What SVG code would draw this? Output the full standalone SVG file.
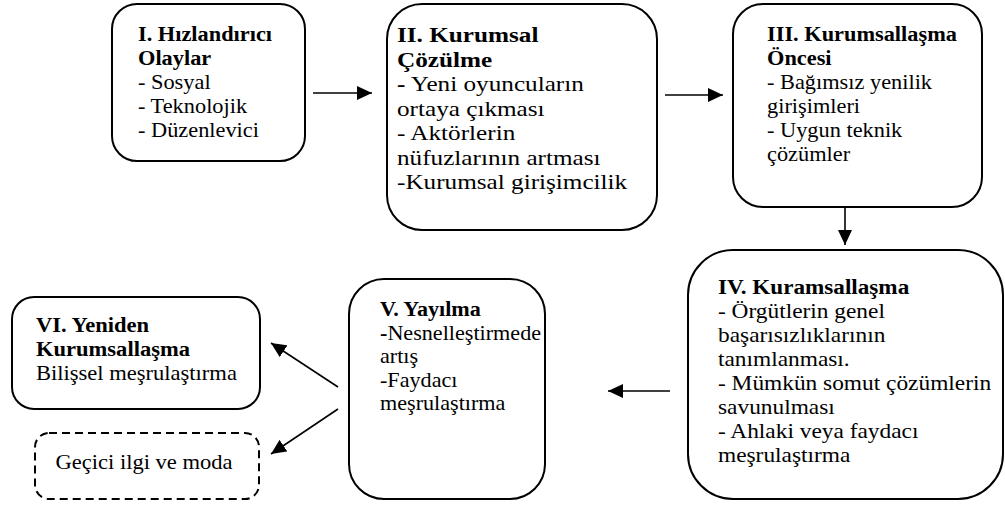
<svg xmlns="http://www.w3.org/2000/svg" width="1005" height="508" viewBox="0 0 1005 508">
<defs>
<marker id="ah" markerUnits="userSpaceOnUse" markerWidth="15" markerHeight="14" refX="15" refY="7" orient="auto">
<path d="M0,0 L15,7 L0,14 Z" fill="#000"/>
</marker>
</defs>
<rect width="1005" height="508" fill="#fff"/>
<g id="connectors" fill="none" stroke="#000" stroke-width="1.6">
<line x1="313" y1="93" x2="372" y2="93" marker-end="url(#ah)"/>
<line x1="665" y1="95" x2="723" y2="95" marker-end="url(#ah)"/>
<line x1="845" y1="207" x2="845" y2="245" marker-end="url(#ah)"/>
<line x1="670" y1="391" x2="608" y2="391" marker-end="url(#ah)"/>
<line x1="338" y1="387" x2="271" y2="343" marker-end="url(#ah)"/>
<line x1="338" y1="409" x2="271" y2="454" marker-end="url(#ah)"/>
</g>
<g id="node1">
<rect x="112" y="4" width="193" height="157" rx="25" fill="#fff" stroke="#000" stroke-width="2"/>
<text transform="translate(138,41) scale(1.09,1)" font-family="Liberation Serif" font-size="20.5" font-weight="bold">I. Hızlandırıcı</text>
<text transform="translate(138,65) scale(1.09,1)" font-family="Liberation Serif" font-size="20.5" font-weight="bold">Olaylar</text>
<text transform="translate(138,89) scale(1.09,1)" font-family="Liberation Serif" font-size="20.5">- Sosyal</text>
<text transform="translate(138,113) scale(1.09,1)" font-family="Liberation Serif" font-size="20.5">- Teknolojik</text>
<text transform="translate(138,137) scale(1.09,1)" font-family="Liberation Serif" font-size="20.5">- Düzenlevici</text>
</g>
<g id="node2">
<rect x="387" y="4" width="270" height="226" rx="35" fill="#fff" stroke="#000" stroke-width="2"/>
<text transform="translate(397,42) scale(1.2,1)" font-family="Liberation Serif" font-size="21" font-weight="bold">II. Kurumsal</text>
<text transform="translate(397,66.5) scale(1.2,1)" font-family="Liberation Serif" font-size="21" font-weight="bold">Çözülme</text>
<text transform="translate(397,91) scale(1.2,1)" font-family="Liberation Serif" font-size="21"><tspan font-weight="bold">-</tspan> Yeni oyuncuların</text>
<text transform="translate(397,115.5) scale(1.2,1)" font-family="Liberation Serif" font-size="21">ortaya çıkması</text>
<text transform="translate(397,140) scale(1.2,1)" font-family="Liberation Serif" font-size="21">- Aktörlerin</text>
<text transform="translate(397,164.5) scale(1.2,1)" font-family="Liberation Serif" font-size="21">nüfuzlarının artması</text>
<text transform="translate(397,189) scale(1.2,1)" font-family="Liberation Serif" font-size="21">-Kurumsal girişimcilik</text>
</g>
<g id="node3">
<rect x="733" y="4" width="249" height="203" rx="30" fill="#fff" stroke="#000" stroke-width="2"/>
<text transform="translate(767,41) scale(1.09,1)" font-family="Liberation Serif" font-size="20.5" font-weight="bold">III. Kurumsallaşma</text>
<text transform="translate(767,65) scale(1.09,1)" font-family="Liberation Serif" font-size="20.5" font-weight="bold">Öncesi</text>
<text transform="translate(767,89) scale(1.09,1)" font-family="Liberation Serif" font-size="20.5">- Bağımsız yenilik</text>
<text transform="translate(767,113) scale(1.09,1)" font-family="Liberation Serif" font-size="20.5">girişimleri</text>
<text transform="translate(767,137) scale(1.09,1)" font-family="Liberation Serif" font-size="20.5">- Uygun teknik</text>
<text transform="translate(767,161) scale(1.09,1)" font-family="Liberation Serif" font-size="20.5">çözümler</text>
</g>
<g id="node4">
<rect x="688" y="250" width="315" height="249" rx="45" fill="#fff" stroke="#000" stroke-width="2"/>
<text transform="translate(718,294) scale(1.13,1)" font-family="Liberation Serif" font-size="20.5" font-weight="bold">IV. Kuramsallaşma</text>
<text transform="translate(718,318) scale(1.14,1)" font-family="Liberation Serif" font-size="20.5">- Örgütlerin genel</text>
<text transform="translate(718,342) scale(1.14,1)" font-family="Liberation Serif" font-size="20.5">başarısızlıklarının</text>
<text transform="translate(718,366) scale(1.14,1)" font-family="Liberation Serif" font-size="20.5">tanımlanması.</text>
<text transform="translate(718,390) scale(1.14,1)" font-family="Liberation Serif" font-size="20.5">- Mümkün somut çözümlerin</text>
<text transform="translate(718,414) scale(1.14,1)" font-family="Liberation Serif" font-size="20.5">savunulması</text>
<text transform="translate(718,438) scale(1.14,1)" font-family="Liberation Serif" font-size="20.5">- Ahlaki veya faydacı</text>
<text transform="translate(718,462) scale(1.14,1)" font-family="Liberation Serif" font-size="20.5">meşrulaştırma</text>
</g>
<g id="node5">
<rect x="349" y="279" width="196" height="220" rx="35" fill="#fff" stroke="#000" stroke-width="2"/>
<text transform="translate(380,316) scale(1.08,1)" font-family="Liberation Serif" font-size="20.5" font-weight="bold">V. Yayılma</text>
<text transform="translate(380,339.5) scale(1.08,1)" font-family="Liberation Serif" font-size="20.5"><tspan font-weight="bold">-</tspan>Nesnelleştirmede</text>
<text transform="translate(380,363) scale(1.08,1)" font-family="Liberation Serif" font-size="20.5">artış</text>
<text transform="translate(380,386.5) scale(1.08,1)" font-family="Liberation Serif" font-size="20.5">-Faydacı</text>
<text transform="translate(380,410) scale(1.08,1)" font-family="Liberation Serif" font-size="20.5">meşrulaştırma</text>
</g>
<g id="node6">
<rect x="12" y="297" width="248" height="112" rx="22" fill="#fff" stroke="#000" stroke-width="2"/>
<text transform="translate(36,332) scale(1.1,1)" font-family="Liberation Serif" font-size="20.5" font-weight="bold">VI. Yeniden</text>
<text transform="translate(36,356) scale(1.1,1)" font-family="Liberation Serif" font-size="20.5" font-weight="bold">Kurumsallaşma</text>
<text transform="translate(36,380) scale(1.1,1)" font-family="Liberation Serif" font-size="20.5">Bilişsel meşrulaştırma</text>
</g>
<g id="node7">
<rect x="35" y="433" width="224" height="66" rx="14" fill="#fff" stroke="#000" stroke-width="2" stroke-dasharray="8 5"/>
<text transform="translate(144,469) scale(1.1,1)" font-family="Liberation Serif" font-size="20.5" text-anchor="middle">Geçici ilgi ve moda</text>
</g>
</svg>
